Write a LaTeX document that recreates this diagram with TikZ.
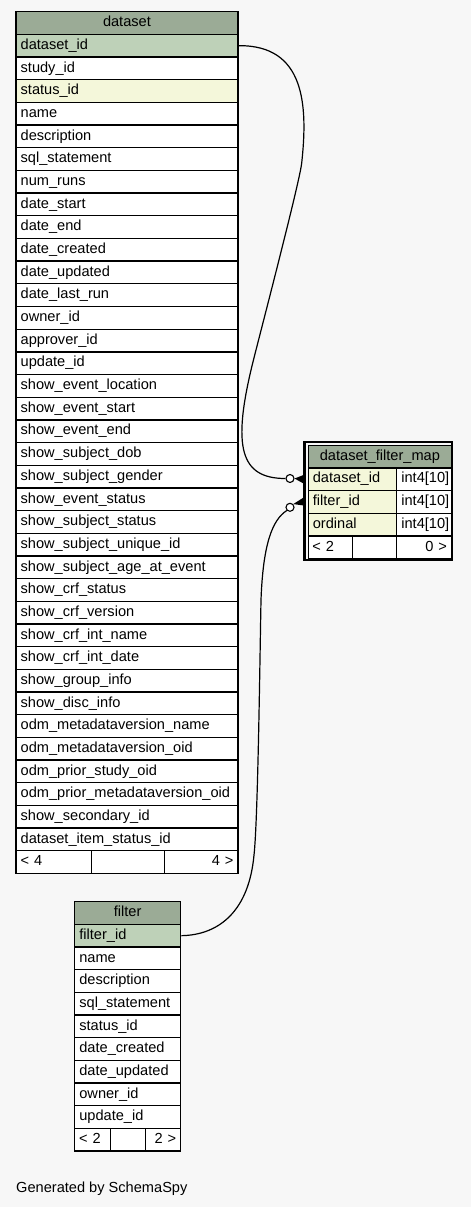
\documentclass[tikz,border=0pt]{standalone}
\usepackage{fontspec}
\setmainfont{Liberation Sans}
\usetikzlibrary{calc}
\definecolor{bgc}{HTML}{F7F7F7}
\definecolor{hdr}{HTML}{9BAB96}
\definecolor{pkc}{HTML}{BED1B8}
\definecolor{idx}{HTML}{F4F7DA}
\begin{document}
\begin{tikzpicture}[x=1pt,y=-1pt,
  cell/.style={draw=black, line width=1.3pt, rectangle, inner sep=0pt, anchor=north west,
    minimum height=22.68pt, text height=10.5pt, text depth=3pt, fill=white,
    font=\fontsize{14.6}{17}\selectfont, align=left},
  pk/.style={fill=pkc}, fk/.style={fill=idx}, pl/.style={},
  hd/.style={fill=hdr, align=center},
  rt/.style={align=right},
  dcell/.style={cell, minimum width=222pt, text width=212.6pt},
  fcell/.style={cell, minimum width=106pt, text width=96.6pt},
  mname/.style={cell, minimum width=88.5pt, text width=79.1pt, minimum height=22.7pt},
  mtype/.style={cell, minimum width=55pt, text width=45.6pt, minimum height=22.7pt},
  mhead/.style={cell, minimum width=143.5pt, text width=134.1pt, minimum height=22.7pt},
  rel/.style={draw=black, line width=1.2pt},
  odot/.style={circle, draw=black, fill=white, line width=1.1pt, minimum size=8pt, inner sep=0pt}
]
\useasboundingbox (0,0) rectangle (471,1207);
\fill[bgc] (0,0) rectangle (471,1207);

% dataset table
\node[dcell, hd] (dh) at (15.3,11) {dataset};
\foreach \s/\nm [count=\i] in {pk/dataset\_id, pl/study\_id, fk/status\_id, pl/name, pl/description,
  pl/sql\_statement, pl/num\_runs, pl/date\_start, pl/date\_end, pl/date\_created, pl/date\_updated,
  pl/date\_last\_run, pl/owner\_id, pl/approver\_id, pl/update\_id, pl/show\_event\_location,
  pl/show\_event\_start, pl/show\_event\_end, pl/show\_subject\_dob, pl/show\_subject\_gender,
  pl/show\_event\_status, pl/show\_subject\_status, pl/show\_subject\_unique\_id,
  pl/show\_subject\_age\_at\_event, pl/show\_crf\_status, pl/show\_crf\_version,
  pl/show\_crf\_int\_name, pl/show\_crf\_int\_date, pl/show\_group\_info, pl/show\_disc\_info,
  pl/odm\_metadataversion\_name, pl/odm\_metadataversion\_oid, pl/odm\_prior\_study\_oid,
  pl/odm\_prior\_metadataversion\_oid, pl/show\_secondary\_id, pl/dataset\_item\_status\_id}
  {\node[dcell,\s] (d\i) at (15.3,{11+22.68*\i}) {\nm};}
\node[cell, minimum width=75.4pt, text width=66pt] (dfa) at (15.3,{11+22.68*37}) {< 4};
\node[cell, minimum width=73.3pt, text width=64pt] (dfb) at (90.7,{11+22.68*37}) {};
\node[cell, rt, minimum width=73.3pt, text width=64pt] (dfc) at (164,{11+22.68*37}) {4 >};

% filter table
\node[fcell, hd] (fh) at (74,901) {filter};
\foreach \s/\nm [count=\i] in {pk/filter\_id, pl/name, pl/description, pl/sql\_statement,
  pl/status\_id, pl/date\_created, pl/date\_updated, pl/owner\_id, pl/update\_id}
  {\node[fcell,\s] (f\i) at (74,{901+22.68*\i}) {\nm};}
\node[cell, minimum width=36pt, text width=27pt] (ffa) at (74,{901+22.68*10}) {< 2};
\node[cell, minimum width=35pt, text width=26pt] (ffb) at (110,{901+22.68*10}) {};
\node[cell, rt, minimum width=35pt, text width=26pt] (ffc) at (145,{901+22.68*10}) {2 >};

% dataset_filter_map table
\draw[line width=2.5pt] (304.6,442.2) rectangle (452.1,559.9);
\node[mhead, hd] (mh) at (307.5,444.5) {dataset\_filter\_map};
\foreach \nm [count=\i] in {dataset\_id, filter\_id, ordinal}
  {\node[mname, fk] (mn\i) at (307.5,{444.5+22.7*\i}) {\nm};
   \node[mtype] (mt\i) at (396,{444.5+22.7*\i}) {int4[10]};}
\node[cell, minimum width=44.5pt, minimum height=22.7pt, text width=36pt] (mfa) at (307.5,{444.5+22.7*4}) {< 2};
\node[cell, minimum width=44pt, minimum height=22.7pt, text width=35pt] (mfb) at (352,{444.5+22.7*4}) {};
\node[cell, rt, minimum width=55pt, minimum height=22.7pt, text width=45.6pt] (mfc) at (396,{444.5+22.7*4}) {0 >};

% relationships
\node[odot] (o1) at (290,478.5) {};
\node[odot] (o2) at (290,507.3) {};
\draw[rel] (d1.east) .. controls (305,45) and (308,105) .. (301.7,163)
  .. controls (299.5,183) and (257.6,343) .. (252.7,363)
  .. controls (232,447) and (240,478.5) .. (o1.west);
\fill (o1.east) -- ($(mn1.west)+(-4.5,-4)$) -- ($(mn1.west)+(-4.5,4)$) -- cycle;
\draw[rel] (f1.east) .. controls (220,935) and (249,910) .. (254,855)
  .. controls (258,820) and (260,650) .. (261,600)
  .. controls (263,545) and (272,520) .. (o2.south west);
\fill (o2.north east) -- ($(mn2.west)+(-4.5,-4)$) -- ($(mn2.west)+(-4.5,3.5)$) -- cycle;

\node[anchor=base west, inner sep=0pt, font=\fontsize{14.6}{17}\selectfont] (gen) at (16,1192.7) {Generated by SchemaSpy};
\end{tikzpicture}
\end{document}
